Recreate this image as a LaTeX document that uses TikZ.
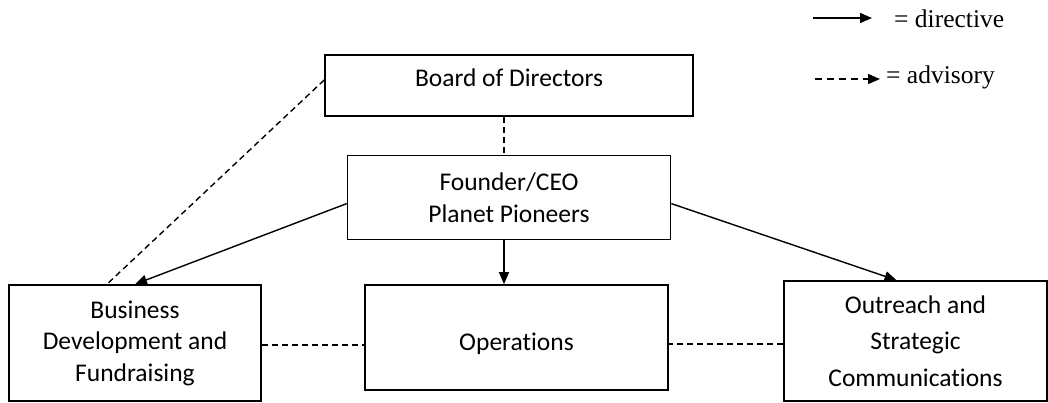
\documentclass[tikz,border=0pt]{standalone}
\usepackage{fontspec}
\setmainfont{Carlito}[RawFeature=-liga]
\newfontfamily\legendfont{Liberation Serif}
\usetikzlibrary{arrows.meta,positioning}
\tikzset{
    %Define standard arrow tip
    >={Triangle[length=12pt,width=10pt]},
    %Define style for boxes
    orgbox/.style={
           rectangle,
           draw=black, line width=1.6pt,
           inner sep=0pt,
           font=\fontsize{25.5}{31.5}\selectfont,
           align=center},
    legend/.style={
           inner sep=0pt,
           anchor=base west,
           font=\legendfont\fontsize{25.5}{30}\selectfont},
    % Define arrow styles
    directive/.style={
           ->,
           line width=1.4pt},
    advisory/.style={
           line width=1.4pt,
           dash pattern=on 6pt off 4pt}
}

\begin{document}
\begin{tikzpicture}[x=1pt,y=-1pt]
\useasboundingbox (0,0) rectangle (1048,402);
\node[orgbox, minimum width=368pt, minimum height=61pt, text depth=15pt](board) at (509,85.5){Board of Directors};
\node[orgbox, minimum width=323pt, minimum height=84pt, below=38pt of board](ceo){Founder/CEO\\Planet Pioneers};
\node[orgbox, minimum width=303pt, minimum height=105pt, text height=31pt](ops) at (516.5,337.5){Operations};
\node[orgbox, minimum width=252pt, minimum height=116pt](bizdev) at (135,343){Business\\Development and\\Fundraising};
\node[orgbox, minimum width=263pt, minimum height=120pt](outreach) at (915.5,341){Outreach and\\[5pt]Strategic\\[5pt]Communications};
% legend
\coordinate (dirA) at (813,18);
\coordinate (dirB) at (872,18);
\node[legend](dirlabel) at (894,27){= directive};
\coordinate (advA) at (815,79);
\coordinate (advB) at (880,79);
\node[legend](advlabel) at (886,83){= advisory};
\path
	(dirA) edge[directive] (dirB)
	(advA) edge[advisory,->,dash pattern=on 7pt off 5pt] (advB);
\path
	([xshift=-5pt]board.south) edge[advisory] ([xshift=-5pt]ceo.north)
	([xshift=-5pt]ceo.south) edge[directive] ([xshift=-12.5pt]ops.north)
	([yshift=-6pt]ceo.west) edge[directive] (bizdev.north)
	([yshift=-6pt]ceo.east) edge[directive] ([xshift=-19pt]outreach.north)
	([yshift=5.5pt]board.west) edge[advisory] ([xshift=-28pt]bizdev.north)
	([yshift=-2pt]bizdev.east) edge[advisory] ([yshift=-2pt]bizdev.east -| ops.west)
	([yshift=-3pt]outreach.west) edge[advisory] ([yshift=-3pt]outreach.west -| ops.east);
\end{tikzpicture}
\end{document}
